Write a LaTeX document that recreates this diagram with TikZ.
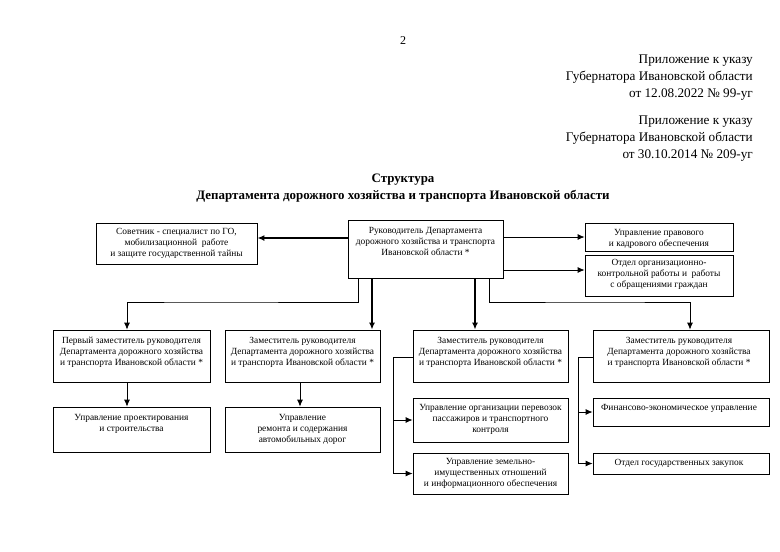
\documentclass[tikz,border=0pt]{standalone}
\usepackage{fontspec}
\setmainfont{Liberation Serif}
\usetikzlibrary{arrows.meta}
\tikzset{
  box/.style={draw, line width=0.8pt, inner sep=0pt},
  txt/.style={font=\fontsize{9.4}{11}\selectfont, align=center, inner sep=0pt, anchor=north},
  hdr/.style={font=\fontsize{13.2}{17}\selectfont, align=right, inner sep=0pt, anchor=north east},
  ttl/.style={font=\bfseries\fontsize{12.9}{16.5}\selectfont, align=center, inner sep=0pt, anchor=north},
  conn/.style={line width=0.8pt},
  bold/.style={line width=1.7pt},
  arr/.style={-{Latex[length=7pt,width=6pt]}}
}
\begin{document}
\begin{tikzpicture}[x=1pt,y=-1pt]
\useasboundingbox (0,0) rectangle (780,552);
% page number
\node[font=\fontsize{12}{14}\selectfont, inner sep=0pt] (pg) at (403,41) {2};
% header
\node[hdr] (h1) at (753,55) {Приложение к указу\\Губернатора Ивановской области\\от 12.08.2022 № 99-уг};
\node[hdr] (h2) at (753,116) {Приложение к указу\\Губернатора Ивановской области\\от 30.10.2014 № 209-уг};
% title
\node[ttl] (title) at (403,174) {Структура\\Департамента дорожного хозяйства и транспорта Ивановской области};

% boxes
\node[box, minimum width=155pt, minimum height=58pt] (head) at (425.5,249) {};
\node[txt] (headt) at (425.5,227) {Руководитель Департамента\\дорожного хозяйства и транспорта\\Ивановской области *};

\node[box, minimum width=161pt, minimum height=41pt] (sov) at (176.5,243.5) {};
\node[txt] (sovt) at (176.5,228.5) {Советник - специалист по ГО,\\мобилизационной\ \ работе\\и защите государственной тайны};

\node[box, minimum width=148pt, minimum height=28pt] (prav) at (659,237) {};
\node[txt] (pravt) at (659,229) {Управление правового\\и кадрового обеспечения};

\node[box, minimum width=148pt, minimum height=41pt] (otd) at (659,275.5) {};
\node[txt] (otdt) at (659,259) {Отдел организационно-\\контрольной работы и\ \ работы\\с обращениями граждан};

\node[box, minimum width=157pt, minimum height=52pt] (d1) at (131.5,356) {};
\node[txt] (d1t) at (131.5,337) {Первый заместитель руководителя\\Департамента дорожного хозяйства\\и транспорта Ивановской области *};

\node[box, minimum width=155pt, minimum height=52pt] (d2) at (302.5,356) {};
\node[txt] (d2t) at (302.5,337) {Заместитель руководителя\\Департамента дорожного хозяйства\\и транспорта Ивановской области *};

\node[box, minimum width=155pt, minimum height=52pt] (d3) at (490.5,356) {};
\node[txt] (d3t) at (490.5,337) {Заместитель руководителя\\Департамента дорожного хозяйства\\и транспорта Ивановской области *};

\node[box, minimum width=176pt, minimum height=52pt] (d4) at (681,356) {};
\node[txt] (d4t) at (679,337) {Заместитель руководителя\\Департамента дорожного хозяйства\\и транспорта Ивановской области *};

\node[box, minimum width=157pt, minimum height=45pt] (s1) at (131.5,429.5) {};
\node[txt] (s1t) at (131.5,414.5) {Управление проектирования\\и строительства};

\node[box, minimum width=155pt, minimum height=45pt] (s2) at (302.5,429.5) {};
\node[txt] (s2t) at (302.5,414.5) {Управление\\ремонта и содержания\\автомобильных дорог};

\node[box, minimum width=155pt, minimum height=44pt] (s3a) at (490.5,420) {};
\node[txt] (s3at) at (490.5,404.5) {Управление организации перевозок\\пассажиров и транспортного\\контроля};

\node[box, minimum width=155pt, minimum height=41pt] (s3b) at (490.5,473.5) {};
\node[txt] (s3bt) at (490.5,458.5) {Управление земельно-\\имущественных отношений\\и информационного обеспечения};

\node[box, minimum width=176pt, minimum height=28pt] (s4a) at (681,412) {};
\node[txt] (s4at) at (679,404) {Финансово-экономическое управление};

\node[box, minimum width=176pt, minimum height=21pt] (s4b) at (681,463.5) {};
\node[txt] (s4bt) at (679,459) {Отдел государственных закупок};

% connectors from head
\draw[bold, arr] (head.west |- 0,238) -- (sov.east |- 0,238);
\draw[conn, arr] (head.east |- prav.west) -- (prav.west);
\draw[conn, arr] (head.east |- 0,270) -- (otd.west |- 0,270);
\draw[conn, arr] (head.south -| 358,0) |- (200,302) -| (d1.north -| 127,0);
\draw[bold, arr] (head.south -| 372,0) -- (d2.north -| 372,0);
\draw[bold, arr] (head.south -| 475,0) -- (d3.north -| 475,0);
\draw[conn, arr] (head.south -| 489,0) |- (600,302) -| (d4.north -| 690,0);
% deputies to units
\draw[conn, arr] (d1.south -| 127,0) -- (s1.north -| 127,0);
\draw[conn, arr] (d2.south -| 300,0) -- (s2.north -| 300,0);
\coordinate (b3) at (393,357);
\coordinate (b4) at (578,357);
\draw[conn] (d3.west |- b3) -- (b3);
\draw[conn, arr] (b3) |- (s3a.west);
\draw[conn, arr] (b3) |- (s3b.west);
\draw[conn] (d4.west |- b4) -- (b4);
\draw[conn, arr] (b4) |- (s4a.west);
\draw[conn, arr] (b4) |- (s4b.west);
\end{tikzpicture}
\end{document}
